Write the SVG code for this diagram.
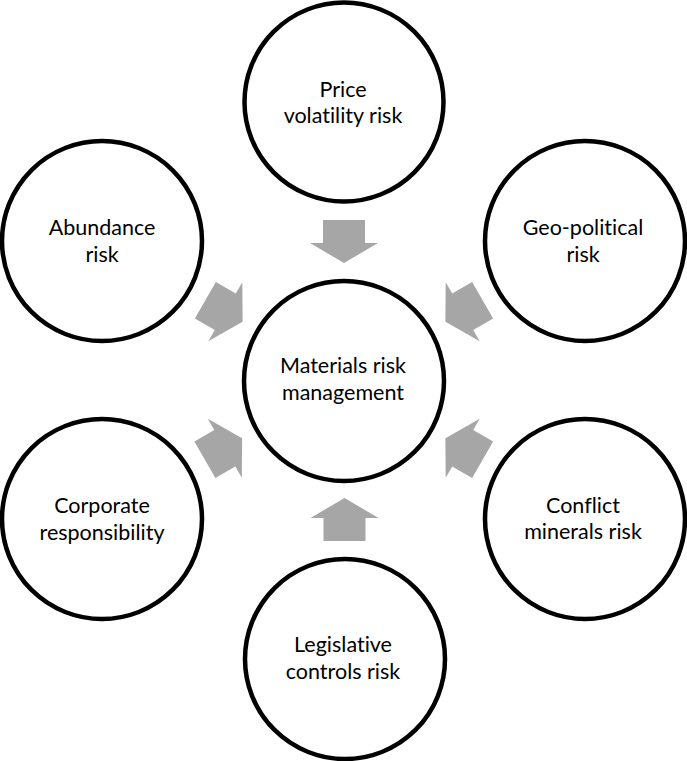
<svg xmlns="http://www.w3.org/2000/svg" width="687" height="761" viewBox="0 0 687 761">
<style>
.node circle{fill:#fff;stroke:#000;stroke-width:4.5}
.node text{font-family:Lato,"Liberation Sans",sans-serif;font-size:21.5px;fill:#000;text-anchor:middle;font-variant-ligatures:none}
.arrow{fill:#A6A6A6}
</style>
<defs>
<polygon id="arr" class="arrow" points="-21.5,-21 1.5,-21 1.5,-34 21.5,0 1.5,34 1.5,21 -21.5,21"/>
</defs>
<rect width="687" height="761" fill="#fff"/>
<g id="connectors">
<use href="#arr" transform="translate(344,241.5) rotate(90)"/>
<use href="#arr" transform="translate(344.5,519.5) rotate(-90)"/>
<use href="#arr" transform="translate(224,311) rotate(30)"/>
<use href="#arr" transform="translate(464,311) rotate(150)"/>
<use href="#arr" transform="translate(223.5,449) rotate(-30)"/>
<use href="#arr" transform="translate(464,449) rotate(-150)"/>
</g>
<g id="price" class="node"><circle cx="344" cy="102" r="99.5"/><text x="343" y="97">Price</text><text x="343" y="123">volatility risk</text></g>
<g id="abundance" class="node"><circle cx="102" cy="241" r="100"/><text x="102" y="235">Abundance</text><text x="102" y="261.5">risk</text></g>
<g id="geopolitical" class="node"><circle cx="585" cy="241" r="100"/><text x="583" y="235">Geo-political</text><text x="583" y="261.5">risk</text></g>
<g id="materials" class="node"><circle cx="344" cy="381" r="100"/><text x="343" y="373">Materials risk</text><text x="343" y="400">management</text></g>
<g id="corporate" class="node"><circle cx="102" cy="519" r="100"/><text x="102" y="513">Corporate</text><text x="102" y="540">responsibility</text></g>
<g id="conflict" class="node"><circle cx="585" cy="519" r="100"/><text x="583" y="513">Conflict</text><text x="583" y="539">minerals risk</text></g>
<g id="legislative" class="node"><circle cx="345" cy="659" r="100"/><text x="343" y="652">Legislative</text><text x="343" y="678.5">controls risk</text></g>
</svg>
